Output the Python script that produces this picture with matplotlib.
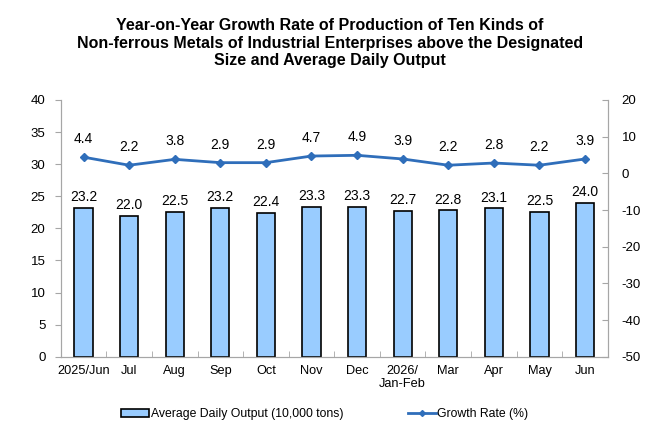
import matplotlib.pyplot as plt
import numpy as np
from matplotlib.lines import Line2D
from matplotlib.patches import Patch

months = ['2025/Jun', 'Jul', 'Aug', 'Sep', 'Oct', 'Nov', 'Dec', '2026/\nJan-Feb',
          'Mar', 'Apr', 'May', 'Jun']
output = [23.2, 22.0, 22.5, 23.2, 22.4, 23.3, 23.3, 22.7, 22.8, 23.1, 22.5, 24.0]
growth = [4.4, 2.2, 3.8, 2.9, 2.9, 4.7, 4.9, 3.9, 2.2, 2.8, 2.2, 3.9]

plt.rcParams['font.family'] = ['Liberation Sans', 'DejaVu Sans']
plt.rcParams['axes.unicode_minus'] = False

fig = plt.figure(figsize=(6.6, 4.4), dpi=100)
ax = fig.add_axes([0.092, 0.189, 0.829, 0.584])
ax2 = ax.twinx()

x = np.arange(len(months))
ax.bar(x, output, width=0.4, color='#99CCFF', edgecolor='black', linewidth=1.2)
for xi, v in zip(x, output):
    ax.text(xi, v + 0.6, f'{v:.1f}', ha='center', va='bottom', fontsize=10)

ax2.plot(x, growth, color='#2F6EBA', linewidth=2, marker='D', markersize=4.5)
for xi, v in zip(x, growth):
    ax2.text(xi, v + 3, f'{v:.1f}', ha='center', va='bottom', fontsize=10)

ax.set_ylim(0, 40)
ax.set_yticks(range(0, 41, 5))
ax2.set_ylim(-50, 20)
ax2.set_yticks(range(-50, 21, 10))
ax.set_xlim(-0.5, len(months) - 0.5)
ax.set_xticks(x)
ax.set_xticklabels(months, fontsize=9.2, linespacing=1.1)

for a in (ax, ax2):
    a.spines['top'].set_visible(False)
    for s in ('left', 'right', 'bottom'):
        a.spines[s].set_color('#A6A6A6')
ax.tick_params(axis='y', direction='out', labelsize=9.5, color='#A6A6A6', length=4, pad=7)
ax2.tick_params(axis='y', direction='in', labelsize=9.5, color='#A6A6A6', length=4, pad=10)
ax.tick_params(axis='x', length=0, pad=6)
ax.set_xticks(np.arange(-0.5, len(months)), minor=True)
ax.tick_params(axis='x', which='minor', length=4, direction='in', color='#A6A6A6')

fig.suptitle('Year-on-Year Growth Rate of Production of Ten Kinds of\n'
             'Non-ferrous Metals of Industrial Enterprises above the Designated\n'
             'Size and Average Daily Output',
             fontsize=11.5, fontweight='bold', y=0.958, linespacing=1.2)

handles = [Patch(facecolor='#99CCFF', edgecolor='black', linewidth=1.2),
           Line2D([0], [0], color='#2F6EBA', linewidth=2, marker='D', markersize=3)]
labels = ['Average Daily Output (10,000 tons)', 'Growth Rate (%)']
fig.legend(handles, labels, loc='lower center', ncol=2, frameon=False,
           bbox_to_anchor=(0.492, 0.02), fontsize=8.8, handlelength=2.3,
           handletextpad=0.1, columnspacing=5.3)

plt.savefig('out.png', dpi=100)
